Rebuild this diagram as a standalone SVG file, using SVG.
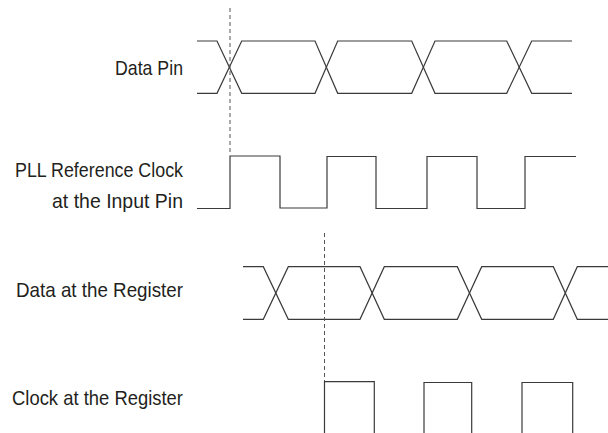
<svg xmlns="http://www.w3.org/2000/svg" width="608" height="433" viewBox="0 0 608 433">
<style>
.w{fill:none;stroke:#3a3a3a;stroke-width:1.2;stroke-linejoin:miter}
.d{fill:none;stroke:#555;stroke-width:1;stroke-dasharray:4,3}
.t{font-family:"Liberation Sans",Arial,sans-serif;font-size:21px;fill:#231f20;text-anchor:end}
</style>
<rect width="608" height="433" fill="#fff"/>
<g id="labels">
<g id="label-data-pin"><text class="t" x="183" y="74.5" textLength="68" lengthAdjust="spacingAndGlyphs">Data Pin</text></g>
<g id="label-pll"><text class="t" x="183" y="176.5" textLength="168" lengthAdjust="spacingAndGlyphs">PLL Reference Clock</text>
<text class="t" x="183" y="208" textLength="131" lengthAdjust="spacingAndGlyphs">at the Input Pin</text></g>
<g id="label-data-reg"><text class="t" x="183" y="296.5" textLength="167" lengthAdjust="spacingAndGlyphs">Data at the Register</text></g>
<g id="label-clock-reg"><text class="t" x="183" y="405" textLength="171" lengthAdjust="spacingAndGlyphs">Clock at the Register</text></g>
</g>
<g id="data-pin">
<path class="w" d="M197 41H217L241.7 93.3H315L337.7 41H411.7L435 93.3H506.7L531.7 41H572"/>
<path class="w" d="M197 93.3H217L241.7 41H315L337.7 93.3H411.7L435 41H506.7L531.7 93.3H572"/>
</g>
<g id="pll-clock">
<path class="w" d="M197 208.5H230V156H280V208H327V156.5H376V208.5H427V156.5H477V208.5H525V156.5H576"/>
</g>
<g id="data-register">
<path class="w" d="M243 266.7H263.3L288.3 319.3H360L384.3 266.7H457.3L481.7 319.3H553.3L577.3 266.7H608"/>
<path class="w" d="M243 319.3H263.3L288.3 266.7H360L384.3 319.3H457.3L481.7 266.7H553.3L577.3 319.3H608"/>
</g>
<g id="clock-register">
<path class="w" d="M324.5 433V381.7H374.3V433"/>
<path class="w" d="M424 433V382.5H471.7V433"/>
<path class="w" d="M522 433V382.5H572.7V433"/>
</g>
<g id="connectors">
<line class="d" x1="230" y1="8" x2="230" y2="155"/>
<line class="d" x1="324.5" y1="233" x2="324.5" y2="381"/>
</g>
</svg>
